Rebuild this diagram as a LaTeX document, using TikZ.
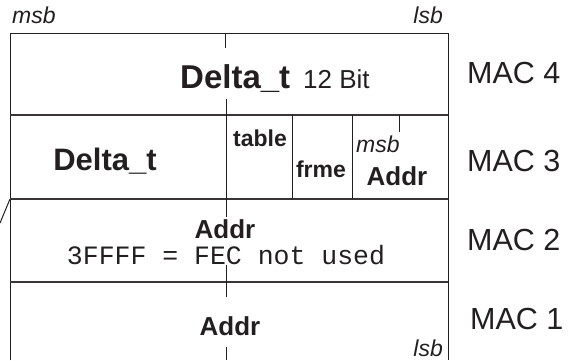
\documentclass[tikz,border=0pt]{standalone}
\usepackage{fontspec}
\setmainfont{Liberation Sans}
\setmonofont{Liberation Mono}
\definecolor{ink}{HTML}{231F20}
\begin{document}
\begin{tikzpicture}[x=1pt,y=-1pt,
	frame/.style={draw=ink, line width=1pt},
	rowline/.style={draw=ink!90, line width=1.4pt},
	tick/.style={draw=ink, line width=0.8pt},
	big/.style={anchor=base, text=ink, inner sep=0pt, font=\fontsize{31}{36}\selectfont\bfseries},
	bold/.style={anchor=base, text=ink, inner sep=0pt, font=\fontsize{26}{30}\selectfont\bfseries},
	small/.style={anchor=base, text=ink, inner sep=0pt, font=\fontsize{23}{27}\selectfont\bfseries},
	bitpos/.style={anchor=base, text=ink, inner sep=0pt, font=\fontsize{23}{27}\selectfont\itshape},
	reg/.style={anchor=base west, text=ink, inner sep=0pt, font=\fontsize{30.5}{36}\selectfont}]
	\useasboundingbox (0,0) rectangle (588,360);
	% outer frame and rows
	\draw[frame] (10,360) -- (10,33) -- (448,33) -- (448,360);
	\foreach \y in {115,199,282}
		\draw[rowline] (10,\y) -- (448,\y);
	\draw[frame] (10,199) -- (0,223);
	% fields of MAC 3
	\draw[frame] (292,115) -- (292,199);
	\draw[frame] (352,115) -- (352,199);
	\draw[tick] (399,115) -- (399,132);
	% centre marks
	\draw[tick] (225,33) -- (225,48);
	\draw[tick] (226,99) -- (226,217);
	\draw[tick] (226,265) -- (226,297);
	\draw[tick] (226,347) -- (226,360);
	% bit order
	\node[bitpos, anchor=base west] (msbtop) at (12,23) {msb};
	\node[bitpos, anchor=base east] (lsbtop) at (443,23) {lsb};
	% MAC 4
	\node[big, anchor=base west, font=\fontsize{33}{38}\selectfont\bfseries] (delta4) at (180,88) {Delta\_t};
	\node[anchor=base west, text=ink, inner sep=0pt, font=\fontsize{26}{30}\selectfont] (bits4) at (303,88) {12 Bit};
	\node[reg] (mac4) at (467,83) {MAC 4};
	% MAC 3
	\node[big] (delta3) at (105,170) {Delta\_t};
	\node[small] (table3) at (260,146) {table};
	\node[small] (frme3) at (321,177) {frme};
	\node[bitpos, anchor=base west] (msb3) at (356,152) {msb};
	\node[bold] (addr3) at (397,185) {Addr};
	\node[reg] (mac3) at (467,171) {MAC 3};
	% MAC 2
	\node[bold] (addr2) at (225,238) {Addr};
	\node[anchor=base, text=ink, inner sep=0pt, font=\fontsize{26.5}{28}\selectfont\ttfamily] (fec2) at (226,264) {3FFFF = FEC not used};
	\node[reg] (mac2) at (467,250) {MAC 2};
	% MAC 1
	\node[bold] (addr1) at (230,335) {Addr};
	\node[bitpos, anchor=base east] (lsb1) at (443,356) {lsb};
	\node[reg] (mac1) at (470,329) {MAC 1};
\end{tikzpicture}
\end{document}
